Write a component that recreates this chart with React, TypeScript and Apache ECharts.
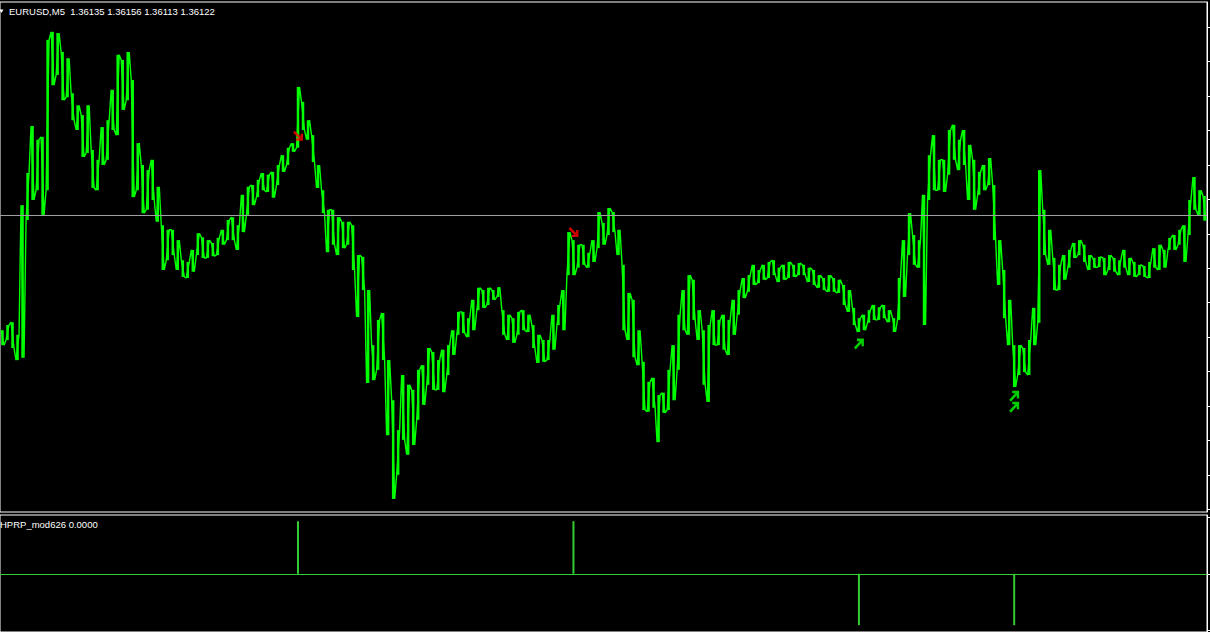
import React, { useEffect, useRef } from 'react';
import * as echarts from 'echarts';

const symbolName = 'EURUSD';
const timeframe = 'M5';
const lastOHLC = [1.36135, 1.36156, 1.36113, 1.36122];

// bar highs / lows (one bar per ~5px column)
const highs = [
  1.35922, 1.35931, 1.35936, 1.35914, 1.36140, 1.36196, 1.36278, 1.36254, 1.36259, 1.36428,
  1.36442, 1.36440, 1.36407, 1.36396, 1.36335, 1.36314, 1.36297, 1.36314, 1.36236, 1.36219,
  1.36276, 1.36288, 1.36341, 1.36402, 1.36393, 1.36407, 1.36358, 1.36248, 1.36210, 1.36201,
  1.36219, 1.36172, 1.36105, 1.36097, 1.36097, 1.36079, 1.36044, 1.36041, 1.36062, 1.36091,
  1.36084, 1.36079, 1.36074, 1.36083, 1.36097, 1.36114, 1.36119, 1.36105, 1.36158, 1.36172,
  1.36175, 1.36184, 1.36196, 1.36193, 1.36198, 1.36210, 1.36227, 1.36240, 1.36248, 1.36346,
  1.36320, 1.36288, 1.36262, 1.36210, 1.36166, 1.36132, 1.36132, 1.36119, 1.36111, 1.36111,
  1.36105, 1.36053, 1.36050, 1.35992, 1.35896, 1.35940, 1.35952, 1.35870, 1.35800, 1.35748,
  1.35844, 1.35827, 1.35818, 1.35853, 1.35861, 1.35891, 1.35884, 1.35870, 1.35888, 1.35896,
  1.35922, 1.35954, 1.35954, 1.35943, 1.35975, 1.35996, 1.35992, 1.35996, 1.35992, 1.35997,
  1.35957, 1.35949, 1.35943, 1.35954, 1.35957, 1.35949, 1.35931, 1.35914, 1.35905, 1.35905,
  1.35949, 1.35966, 1.35992, 1.36093, 1.36079, 1.36071, 1.36071, 1.36057, 1.36079, 1.36128,
  1.36109, 1.36135, 1.36128, 1.36097, 1.36036, 1.35987, 1.35975, 1.35922, 1.35867, 1.35832,
  1.35839, 1.35809, 1.35813, 1.35853, 1.35896, 1.35949, 1.35992, 1.36018, 1.36010, 1.35957,
  1.35922, 1.35931, 1.35957, 1.35940, 1.35949, 1.35940, 1.35975, 1.35992, 1.36013, 1.36018,
  1.36036, 1.36027, 1.36036, 1.36041, 1.36044, 1.36031, 1.36036, 1.36041, 1.36036, 1.36039,
  1.36036, 1.36031, 1.36027, 1.36018, 1.36013, 1.36018, 1.36013, 1.36010, 1.36001, 1.35992,
  1.35961, 1.35943, 1.35949, 1.35957, 1.35966, 1.35962, 1.35966, 1.35957, 1.35943, 1.36013,
  1.36079, 1.36126, 1.36088, 1.36079, 1.36158, 1.36227, 1.36262, 1.36219, 1.36219, 1.36271,
  1.36280, 1.36254, 1.36271, 1.36245, 1.36219, 1.36198, 1.36210, 1.36222, 1.36175, 1.36079,
  1.36027, 1.35975, 1.35896, 1.35896, 1.35891, 1.35905, 1.35961, 1.36201, 1.36132, 1.36097,
  1.36048, 1.36036, 1.36053, 1.36062, 1.36074, 1.36079, 1.36071, 1.36053, 1.36048, 1.36050,
  1.36048, 1.36053, 1.36048, 1.36044, 1.36062, 1.36048, 1.36041, 1.36036, 1.36034, 1.36041,
  1.36065, 1.36071, 1.36062, 1.36083, 1.36088, 1.36097, 1.36105, 1.36149, 1.36189, 1.36166,
  1.36156,
];

const lows = [
  1.35896, 1.35905, 1.35891, 1.35870, 1.35874, 1.36114, 1.36149, 1.36166, 1.36123, 1.36166,
  1.36349, 1.36367, 1.36323, 1.36328, 1.36288, 1.36271, 1.36224, 1.36231, 1.36170, 1.36166,
  1.36210, 1.36219, 1.36271, 1.36262, 1.36306, 1.36323, 1.36154, 1.36166, 1.36126, 1.36132,
  1.36149, 1.36111, 1.36027, 1.36044, 1.36053, 1.36027, 1.36015, 1.36013, 1.36024, 1.36053,
  1.36048, 1.36048, 1.36051, 1.36053, 1.36071, 1.36079, 1.36079, 1.36062, 1.36093, 1.36123,
  1.36140, 1.36154, 1.36166, 1.36163, 1.36153, 1.36175, 1.36198, 1.36210, 1.36233, 1.36240,
  1.36271, 1.36254, 1.36215, 1.36170, 1.36126, 1.36058, 1.36071, 1.36053, 1.36065, 1.36071,
  1.36027, 1.35945, 1.35992, 1.35830, 1.35835, 1.35853, 1.35870, 1.35739, 1.35628, 1.35670,
  1.35731, 1.35705, 1.35722, 1.35766, 1.35792, 1.35827, 1.35818, 1.35818, 1.35814, 1.35844,
  1.35879, 1.35914, 1.35917, 1.35910, 1.35922, 1.35957, 1.35961, 1.35966, 1.35975, 1.35980,
  1.35914, 1.35905, 1.35900, 1.35914, 1.35922, 1.35919, 1.35891, 1.35865, 1.35867, 1.35870,
  1.35888, 1.35931, 1.35922, 1.36018, 1.36018, 1.36031, 1.36036, 1.36031, 1.36041, 1.36065,
  1.36071, 1.36088, 1.36093, 1.36053, 1.35922, 1.35905, 1.35875, 1.35861, 1.35783, 1.35780,
  1.35787, 1.35727, 1.35778, 1.35783, 1.35800, 1.35853, 1.35922, 1.35914, 1.35940, 1.35905,
  1.35827, 1.35797, 1.35896, 1.35896, 1.35888, 1.35879, 1.35914, 1.35949, 1.35978, 1.35989,
  1.36001, 1.36004, 1.36010, 1.36013, 1.36018, 1.36006, 1.36010, 1.36013, 1.36015, 1.36018,
  1.36018, 1.36006, 1.36001, 1.35996, 1.35992, 1.35989, 1.35989, 1.35987, 1.35966, 1.35954,
  1.35931, 1.35919, 1.35922, 1.35935, 1.35940, 1.35940, 1.35943, 1.35936, 1.35919, 1.35940,
  1.35980, 1.36053, 1.36036, 1.36031, 1.35931, 1.36149, 1.36166, 1.36166, 1.36163, 1.36193,
  1.36219, 1.36201, 1.36210, 1.36149, 1.36132, 1.36158, 1.36166, 1.36175, 1.36079, 1.36001,
  1.35943, 1.35896, 1.35823, 1.35844, 1.35849, 1.35844, 1.35896, 1.35935, 1.36053, 1.36036,
  1.35992, 1.35992, 1.36010, 1.36031, 1.36048, 1.36053, 1.36041, 1.36027, 1.36031, 1.36032,
  1.36018, 1.36027, 1.36024, 1.36018, 1.36031, 1.36018, 1.36015, 1.36018, 1.36015, 1.36013,
  1.36031, 1.36027, 1.36031, 1.36062, 1.36062, 1.36071, 1.36041, 1.36088, 1.36132, 1.36123,
  1.36113,
];

const priceTicks = [
  1.3561, 1.3567, 1.3573, 1.3579, 1.3585, 1.3591, 1.3597, 1.3603,
  1.3609, 1.3615, 1.3621, 1.3627, 1.3633, 1.3639, 1.3645,
];
const priceMin = 1.3560524;
const priceMax = 1.3649401;

// arrow signals: [bar index, price]
const sellSignals = [[59, 1.36261], [114, 1.36093]];
const buySignals = [[171, 1.35898], [202, 1.35807], [202, 1.35788]];

const indicatorName = 'HPRP_mod626';
const indicatorValue = 0;
const hprpSpikes = [[59, 0.93], [114, 0.93], [171, -0.91], [202, -0.91]];
const hprpTicks = [-1, 0, 1];

const N = highs.length;

const barData = highs.map((h, i) => [i, h, lows[i]]);

const pricePath: number[][] = [];
highs.forEach((h, i) => {
  const l = lows[i];
  if (i % 2 === 0) {
    pricePath.push([i - 0.3, h], [i + 0.3, l]);
  } else {
    pricePath.push([i - 0.3, l], [i + 0.3, h]);
  }
});

const arrowUp =
  'path://M0 8.2 L8.2 0 L10 1.8 L1.8 10 Z M3 0 L10 0 L10 2.4 L3 2.4 Z M7.6 0 L10 0 L10 7 L7.6 7 Z';
const arrowDown =
  'path://M0 1.8 L1.8 0 L10 8.2 L8.2 10 Z M3 7.6 L10 7.6 L10 10 L3 10 Z M7.6 3 L10 3 L10 10 L7.6 10 Z';

const headerText = `${symbolName},${timeframe}\u00a0\u00a0${lastOHLC.map((v) => v.toFixed(5)).join(' ')}`;
const subText = `${indicatorName} ${indicatorValue.toFixed(4)}`;

const renderBar = (params: any, api: any) => {
  const x = api.value(0);
  const hi = api.coord([x, api.value(1)]);
  const lo = api.coord([x, api.value(2)]);
  const step = api.size([1, 0])[0];
  const w = step * 0.5;
  return {
    type: 'rect',
    shape: { x: hi[0] - w / 2, y: hi[1], width: w, height: Math.max(lo[1] - hi[1], 1) },
    style: { fill: '#00ff00' },
  };
};

const option: any = {
  animation: false,
  backgroundColor: '#000000',
  grid: [
    { left: -1, right: 3, top: 2, height: 510, show: true, borderColor: '#ffffff', borderWidth: 1 },
    { left: -1, right: 3, top: 515, height: 118, show: true, borderColor: '#ffffff', borderWidth: 1 },
  ],
  xAxis: [
    { type: 'value', gridIndex: 0, min: -0.5, max: N - 0.5, show: false },
    { type: 'value', gridIndex: 1, min: -0.5, max: N - 0.5, show: false },
  ],
  yAxis: [
    {
      type: 'value',
      gridIndex: 0,
      position: 'right',
      min: priceMin,
      max: priceMax,
      axisLine: { show: true, onZero: false, lineStyle: { color: '#ffffff', width: 1 } },
      axisTick: { show: true, inside: false, length: 3, customValues: priceTicks, lineStyle: { color: '#ffffff' } },
      axisLabel: { show: false, customValues: priceTicks },
      splitLine: { show: false },
    },
    {
      type: 'value',
      gridIndex: 1,
      position: 'right',
      min: -1.03,
      max: 1.04,
      axisLine: { show: true, onZero: false, lineStyle: { color: '#ffffff', width: 1 } },
      axisTick: { show: true, inside: false, length: 3, customValues: hprpTicks, lineStyle: { color: '#ffffff' } },
      axisLabel: { show: false, customValues: hprpTicks },
      splitLine: { show: false },
    },
  ],
  series: [
    {
      type: 'custom',
      xAxisIndex: 0,
      yAxisIndex: 0,
      data: barData,
      renderItem: renderBar,
      encode: { x: 0, y: [1, 2] },
      silent: true,
      clip: true,
      z: 2,
    },
    {
      type: 'line',
      xAxisIndex: 0,
      yAxisIndex: 0,
      data: pricePath,
      showSymbol: false,
      silent: true,
      lineStyle: { color: '#00ff00', width: 1.4 },
      markLine: {
        silent: true,
        precision: 5,
        symbol: ['none', 'none'],
        label: { show: false },
        lineStyle: { color: '#a0a0a4', width: 1, type: 'solid' },
        data: [{ yAxis: lastOHLC[3] }],
      },
      z: 2,
    },
    {
      type: 'scatter',
      xAxisIndex: 0,
      yAxisIndex: 0,
      data: sellSignals,
      symbol: arrowDown,
      symbolSize: [10, 10],
      itemStyle: { color: '#ff0000' },
      silent: true,
      z: 3,
    },
    {
      type: 'scatter',
      xAxisIndex: 0,
      yAxisIndex: 0,
      data: buySignals,
      symbol: arrowUp,
      symbolSize: [10, 11],
      itemStyle: { color: '#00ff00' },
      silent: true,
      z: 3,
    },
    {
      type: 'bar',
      xAxisIndex: 1,
      yAxisIndex: 1,
      data: hprpSpikes,
      barWidth: 2,
      itemStyle: { color: '#32cd32' },
      silent: true,
      markLine: {
        silent: true,
        precision: 5,
        symbol: ['none', 'none'],
        label: { show: false },
        lineStyle: { color: '#32cd32', width: 1.2, type: 'solid' },
        data: [{ yAxis: 0 }],
      },
    },
  ],
  graphic: [
    {
      type: 'polygon',
      shape: { points: [[-0.5, 9.5], [3.5, 9.5], [1.5, 13]] },
      style: { fill: '#ffffff' },
      silent: true,
    },
    {
      type: 'text',
      x: 9,
      y: 11,
      style: {
        text: headerText,
        fill: '#ffffff',
        font: '9.5px "Liberation Sans", Arial, sans-serif',
        textVerticalAlign: 'middle',
      },
      silent: true,
    },
    {
      type: 'text',
      x: 0,
      y: 524,
      style: {
        text: subText,
        fill: '#ffffff',
        font: '9.5px "Liberation Sans", Arial, sans-serif',
        textVerticalAlign: 'middle',
      },
      silent: true,
    },
  ],
};

export default function App() {
  const ref = useRef<HTMLDivElement>(null);
  useEffect(() => {
    document.body.style.margin = '0';
    document.body.style.background = '#000000';
    const chart = echarts.init(ref.current as HTMLDivElement, null, { renderer: 'svg' });
    chart.setOption(option);
    return () => chart.dispose();
  }, []);
  return <div ref={ref} style={{ width: 1210, height: 632, background: '#000000' }} />;
}
